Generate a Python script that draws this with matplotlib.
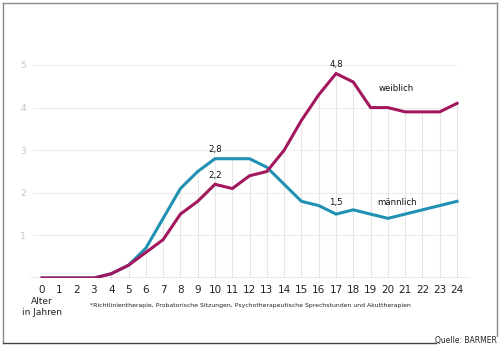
import matplotlib.pyplot as plt
from matplotlib.lines import Line2D
import numpy as np

# Alter in Jahren
alter = list(range(25))
weiblich = [0, 0, 0, 0, 0.1, 0.3, 0.6, 0.9, 1.5, 1.8, 2.2, 2.1, 2.4, 2.5,
            3.0, 3.7, 4.3, 4.8, 4.6, 4.0, 4.0, 3.9, 3.9, 3.9, 4.1]
maennlich = [0, 0, 0, 0, 0.1, 0.3, 0.7, 1.4, 2.1, 2.5, 2.8, 2.8, 2.8, 2.6,
             2.2, 1.8, 1.7, 1.5, 1.6, 1.5, 1.4, 1.5, 1.6, 1.7, 1.8]
y_ticks = [1, 2, 3, 4, 5]

col_w = "#a3175f"
col_m = "#2191b3"

plt.rcParams['font.family'] = ['Liberation Sans Narrow', 'DejaVu Sans']

W, H = 500, 348
fig = plt.figure(figsize=(5, 3.48), dpi=100)
ax = fig.add_axes([30 / W, (H - 278) / H, 440 / W, 213 / H])
ax.set_xlim(-0.7, 24.75)
ax.set_ylim(0, 5)

# grid
ax.hlines(y_ticks, -0.6, 24, color="#eeeeee", lw=0.8, zorder=1)
top = np.maximum(weiblich, maennlich)
ax.vlines(alter, 0, top, color="#e6e6e6", lw=0.8, zorder=1)
ax.axhline(0, color="#999999", lw=1, zorder=2)

ax.plot(alter, maennlich, color=col_m, lw=2.2, zorder=3, solid_joinstyle="miter")
ax.plot(alter, weiblich, color=col_w, lw=2.2, zorder=4, solid_joinstyle="miter")

for s in ax.spines.values():
    s.set_visible(False)
ax.set_xticks(alter)
ax.set_xticklabels([str(a) for a in alter], fontsize=7.5, color="#222222")
ax.set_yticks(y_ticks)
ax.set_yticklabels([str(v) for v in y_ticks], fontsize=6.5, color="#c4c4c4")
ax.tick_params(axis="both", length=0)
ax.tick_params(axis="x", pad=5)
ax.tick_params(axis="y", pad=3)

# annotations
fs = 6.2
ax.text(10, 2.92, "2,8", ha="center", va="bottom", fontsize=fs, color="#111111")
ax.text(10, 2.3, "2,2", ha="center", va="bottom", fontsize=fs, color="#111111")
ax.text(17, 4.9, "4,8", ha="center", va="bottom", fontsize=fs, color="#111111", clip_on=False)
ax.text(17, 1.66, "1,5", ha="center", va="bottom", fontsize=fs, color="#111111")
ax.text(19.45, 4.45, "weiblich", ha="left", va="center", fontsize=fs, color="#111111")
ax.text(19.4, 1.78, "männlich", ha="left", va="center", fontsize=fs, color="#111111")

# texts below
fig.text(42 / W, 1 - 307 / H, "Alter\nin Jahren", ha="center", va="center",
         fontsize=6.5, color="#222222", linespacing=1.35)
fig.text(90 / W, 1 - 306 / H,
         "*Richtlinientherapie, Probatorische Sitzungen, Psychotherapeutische Sprechstunden und Akuttherapien",
         ha="left", va="center", fontsize=4.4, color="#222222")
fig.text(497 / W, 1 - 341 / H, "Quelle: BARMER", ha="right", va="center",
         fontsize=5.5, color="#222222")

# frame
fc = "#8a8a8a"
fig.add_artist(Line2D([3 / W, 3 / W], [1 - 3 / H, 1 - 343 / H], color=fc, lw=1))
fig.add_artist(Line2D([3 / W, 497 / W], [1 - 3 / H, 1 - 3 / H], color=fc, lw=1))
fig.add_artist(Line2D([497 / W, 497 / W], [1 - 3 / H, 1 - 336 / H], color=fc, lw=1))
fig.add_artist(Line2D([3 / W, 436 / W], [1 - 343 / H, 1 - 343 / H], color="#444444", lw=1))

fig.savefig("out.png", dpi=100)
